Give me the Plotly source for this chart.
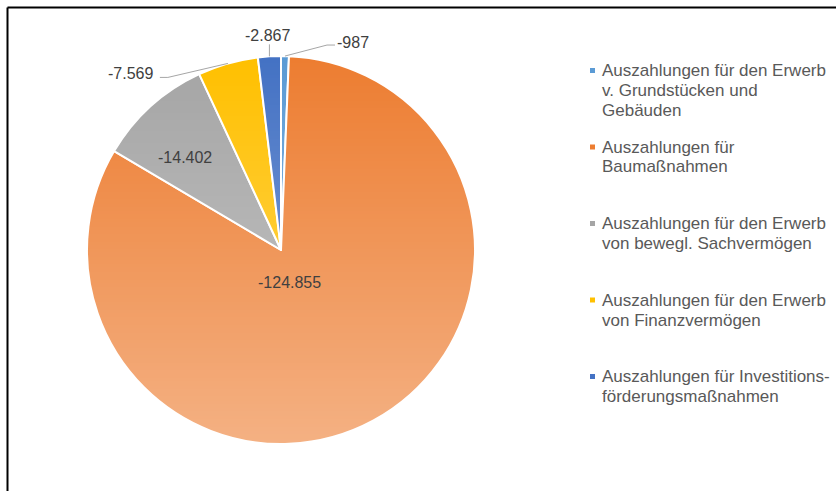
import base64
import math
import struct
import zlib

import plotly.graph_objects as go

W, H = 836, 491

categories = [
    "Auszahlungen für den Erwerb<br>v. Grundstücken und<br>Gebäuden",
    "Auszahlungen für<br>Baumaßnahmen",
    "Auszahlungen für den Erwerb<br>von bewegl. Sachvermögen",
    "Auszahlungen für den Erwerb<br>von Finanzvermögen",
    "Auszahlungen für Investitions-<br>förderungsmaßnahmen",
]
values = [-987, -124855, -14402, -7569, -2867]
colors = ["#5B9BD5", "#ED7D31", "#A5A5A5", "#FFC000", "#4472C4"]

# pie placement in pixels
CX, CY, R = 281, 250, 194
TEXT_COLOR = "#404040"
LEGEND_COLOR = "#595959"
FONT = "Liberation Sans, Arial, sans-serif"


def px(x, y):
    """Pixel position -> paper coords."""
    return x / W, 1 - y / H


def fmt(v):
    return f"{v:,}".replace(",", ".")


def gradient_png(n=256, max_alpha=0.4):
    """1px wide white strip fading from transparent to semi-opaque."""
    raw = b"".join(
        b"\x00" + bytes([255, 255, 255, int(round(255 * max_alpha * i / (n - 1)))])
        for i in range(n)
    )

    def chunk(tag, data):
        body = tag + data
        return struct.pack(">I", len(data)) + body + struct.pack(">I", zlib.crc32(body))

    png = (
        b"\x89PNG\r\n\x1a\n"
        + chunk(b"IHDR", struct.pack(">IIBBBBB", 1, n, 8, 6, 0, 0, 0))
        + chunk(b"IDAT", zlib.compress(raw))
        + chunk(b"IEND", b"")
    )
    return "data:image/png;base64," + base64.b64encode(png).decode()


sizes = [abs(v) for v in values]
total = sum(sizes)


def slice_point(i, frac):
    """Pixel point at frac*R along the mid angle of slice i (clockwise from top)."""
    start = sum(sizes[:i]) / total
    mid = (start + sizes[i] / total / 2) * 2 * math.pi
    return CX + frac * R * math.sin(mid), CY - frac * R * math.cos(mid)


x0, y0 = px(CX - R, CY + R)
x1, y1 = px(CX + R, CY - R)

fig = go.Figure(
    go.Pie(
        labels=[c.replace("<br>", " ") for c in categories],
        values=sizes,
        sort=False,
        direction="clockwise",
        rotation=0,
        marker={"colors": colors, "line": {"color": "white", "width": 2}},
        textinfo="none",
        hoverinfo="label+text",
        text=[fmt(v) for v in values],
        showlegend=False,
        domain={"x": [x0, x1], "y": [y0, y1]},
    )
)

annotations = []
shapes = []
label_font = {"size": 16, "color": TEXT_COLOR, "family": FONT}

# inside labels for the two large slices: (slice, radius fraction, nudge)
for i, frac, nudge in [(1, 0.16, (-6, 5)), (2, 0.69, (-6, 7))]:
    lx, ly = slice_point(i, frac)
    ax_, ay_ = px(lx + nudge[0], ly + nudge[1])
    annotations.append(dict(
        x=ax_, y=ay_, xref="paper", yref="paper", text=fmt(values[i]),
        xanchor="center", yanchor="middle", showarrow=False, font=label_font,
    ))

# outside labels with leader lines: (slice, elbow offset, text offset, anchor)
outside = [
    (0, (42, -11), (50, -14), "left"),
    (3, (-60, 14), (-73, 10), "right"),
    (4, (0, -12), (-2, -21), "center"),
]
for i, elbow, toff, anchor in outside:
    ex, ey = slice_point(i, 1.0)
    bx, by = ex + elbow[0], ey + elbow[1]
    pts = [(ex, ey), (bx, by)]
    if anchor != "center":
        step = 8 if anchor == "left" else -8
        pts.append((bx + step, by))
    path = "M " + " L ".join("{:.5f},{:.5f}".format(*px(*p)) for p in pts)
    shapes.append(dict(type="path", xref="paper", yref="paper", path=path,
                       line={"color": "#A6A6A6", "width": 1}))
    tx, ty = px(ex + toff[0], ey + toff[1])
    annotations.append(dict(
        x=tx, y=ty, xref="paper", yref="paper", text=fmt(values[i]),
        xanchor=anchor, yanchor="middle", showarrow=False, font=label_font,
    ))

# manual legend with wide row spacing, one annotation per text line
LEG_X, LEG_Y0, LEG_STEP, LINE_H = 590, 70.5, 76.5, 20
for i, (name, col) in enumerate(zip(categories, colors)):
    yc = LEG_Y0 + i * LEG_STEP
    sx0, sy0 = px(LEG_X, yc + 2.5)
    sx1, sy1 = px(LEG_X + 5, yc - 2.5)
    shapes.append(dict(type="rect", xref="paper", yref="paper",
                       x0=sx0, y0=sy0, x1=sx1, y1=sy1,
                       fillcolor=col, line={"width": 0}))
    for k, line in enumerate(name.split("<br>")):
        tx, ty = px(LEG_X + 10, yc + k * LINE_H)
        annotations.append(dict(
            x=tx, y=ty, xref="paper", yref="paper", text=line,
            xanchor="left", yanchor="middle", align="left", showarrow=False,
            font={"size": 17, "color": LEGEND_COLOR, "family": FONT},
        ))

# chart frame (top and left edges visible)
fx, fy = px(7.5, 7.5)
shapes.append(dict(type="line", xref="paper", yref="paper", x0=fx, y0=fy, x1=1.0, y1=fy,
                   line={"color": "black", "width": 2}))
shapes.append(dict(type="line", xref="paper", yref="paper", x0=fx, y0=fy, x1=fx, y1=0.0,
                   line={"color": "black", "width": 2}))

fig.update_layout(
    width=W,
    height=H,
    margin={"l": 0, "r": 0, "t": 0, "b": 0},
    paper_bgcolor="white",
    plot_bgcolor="white",
    font={"family": FONT},
    annotations=annotations,
    shapes=shapes,
    images=[dict(
        source=gradient_png(), xref="paper", yref="paper",
        x=x0, y=y1, sizex=x1 - x0, sizey=y1 - y0,
        xanchor="left", yanchor="top", sizing="stretch", layer="above",
    )],
)

# page body has a default 8px margin; drop it so the figure sits at 0,0
fig.write_html(
    "out.html",
    config={"displayModeBar": False},
    post_script="document.body.style.margin = '0'; document.body.style.overflow = 'hidden';",
)
